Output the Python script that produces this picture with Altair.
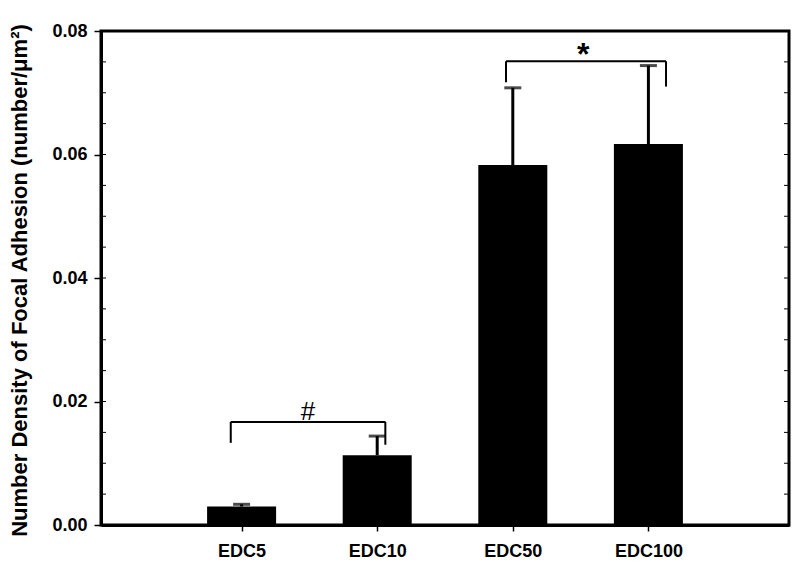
import altair as alt
import pandas as pd

categories = ["EDC5", "EDC10", "EDC50", "EDC100"]
positions = [1, 2, 3, 4]
means = [0.0030, 0.0113, 0.0583, 0.0617]
upper = [0.00335, 0.0144, 0.0708, 0.0744]

bracket_left = [0.92, 2.95]
bracket_right = [2.06, 4.13]
bracket_top = [0.0167, 0.0751]
bracket_left_bottom = [0.0133, 0.0717]
bracket_right_bottom = [0.0130, 0.0710]

hash_mark = ["#"]
hash_x = [1.49]
hash_y = [0.0183]
star_mark = ["*"]
star_x = [3.52]
star_y = [0.0745]

y_major = [0.0, 0.02, 0.04, 0.06, 0.08]
y_minor = [0.005, 0.01, 0.015, 0.02, 0.025, 0.03, 0.035, 0.04, 0.045,
           0.05, 0.055, 0.06, 0.065, 0.07, 0.075]

W, H = 688, 494
FONT = "Liberation Sans"

bars = pd.DataFrame({"cat": categories, "pos": positions, "mean": means, "upper": upper})
brk = pd.DataFrame({"l": bracket_left, "r": bracket_right, "top": bracket_top,
                    "lb": bracket_left_bottom, "rb": bracket_right_bottom})
hsh = pd.DataFrame({"t": hash_mark, "x": hash_x, "y": hash_y})
star = pd.DataFrame({"t": star_mark, "x": star_x, "y": star_y})
minor = pd.DataFrame({"v": y_minor})

label_expr = "[''," + ",".join("'" + c + "'" for c in categories) + "][datum.value]"

xscale = alt.Scale(domain=[0, 5], nice=False, zero=False)
yscale = alt.Scale(domain=[0, 0.08], nice=False)

x_axis = alt.Axis(values=positions, labelExpr=label_expr, title=None, grid=False,
                  tickSize=6, tickWidth=1.5, tickColor="black", domainColor="black",
                  domainWidth=3, labelFont=FONT, labelFontSize=18, labelFontWeight="bold",
                  labelColor="black", labelPadding=11)
y_axis = alt.Axis(values=y_major, format=".2f", grid=False, tickSize=7, tickWidth=1.5,
                  tickColor="black", domainColor="black", domainWidth=3,
                  labelFont=FONT, labelFontSize=18, labelFontWeight="bold", labelColor="black",
                  labelPadding=7,
                  title="Number Density of Focal Adhesion (number/μm²)",
                  titleFont=FONT, titleFontSize=22, titleFontWeight="bold", titleColor="black",
                  titleX=-70, titleY=H / 2 + 2, titleAngle=270, titleBaseline="bottom")

base_bar = alt.Chart(bars)
bar_layer = base_bar.mark_bar(size=69, color="black").encode(
    x=alt.X("pos:Q", scale=xscale, axis=x_axis),
    y=alt.Y("mean:Q", scale=yscale, axis=y_axis),
)
err = base_bar.mark_rule(color="black", strokeWidth=3).encode(
    x="pos:Q", y="mean:Q", y2="upper:Q")
cap = base_bar.mark_tick(color="black", orient="horizontal", size=17, thickness=3).encode(
    x="pos:Q", y="upper:Q")

b = alt.Chart(brk)
h_line = b.mark_rule(color="black", strokeWidth=2).encode(x="l:Q", x2="r:Q", y="top:Q")
l_leg = b.mark_rule(color="black", strokeWidth=2).encode(x="l:Q", y="top:Q", y2="lb:Q")
r_leg = b.mark_rule(color="black", strokeWidth=2).encode(x="r:Q", y="top:Q", y2="rb:Q")

txt_hash = alt.Chart(hsh).mark_text(font=FONT, fontSize=26, color="black",
                                    baseline="middle").encode(x="x:Q", y="y:Q", text="t:N")
txt_star = alt.Chart(star).mark_text(font=FONT, fontSize=32, fontWeight="bold", color="black",
                                     baseline="alphabetic").encode(x="x:Q", y="y:Q", text="t:N")

m = alt.Chart(minor)
minor_left = m.mark_rule(color="black", strokeWidth=1).encode(
    y="v:Q", x=alt.value(0), x2=alt.value(5))
minor_right = m.mark_rule(color="black", strokeWidth=1).encode(
    y="v:Q", x=alt.value(W - 5), x2=alt.value(W))

chart = alt.layer(bar_layer, err, cap, h_line, l_leg, r_leg, txt_hash, txt_star,
                  minor_left, minor_right).properties(
    width=W, height=H,
    autosize=alt.AutoSizeParams(type="none"),
    padding={"left": 93, "top": 23, "right": 3, "bottom": 36},
    background="white",
).configure_view(stroke="black", strokeWidth=3)

chart.save("out.html", embed_options={"renderer": "svg", "actions": False})
